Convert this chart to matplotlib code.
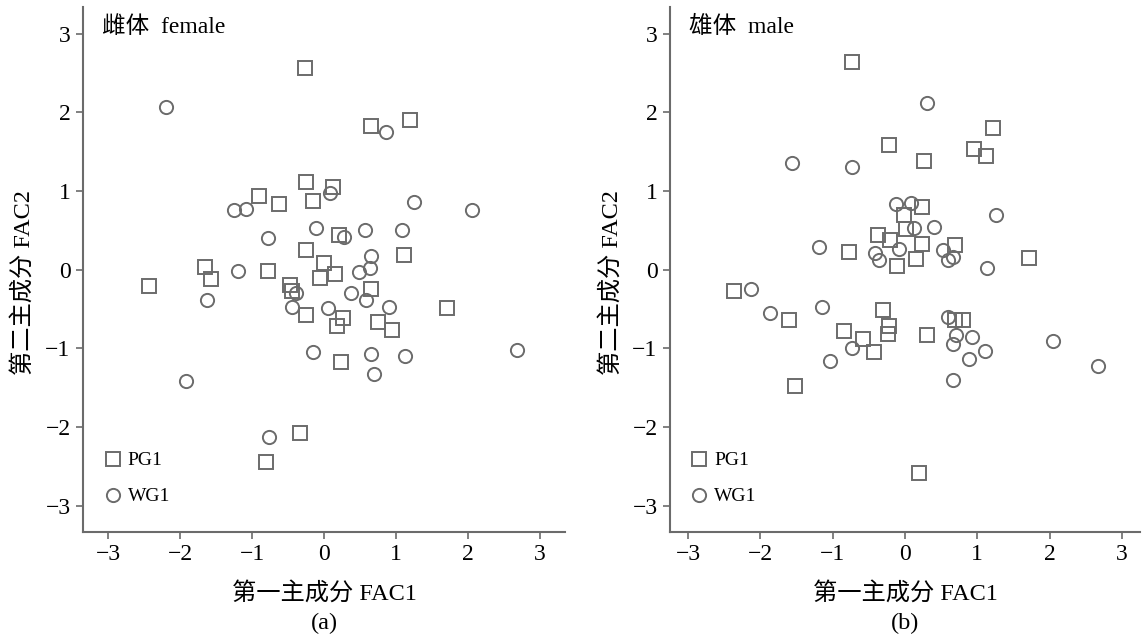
import numpy as np
import matplotlib
matplotlib.use("Agg")
import matplotlib.pyplot as plt

plt.rcParams['font.family'] = ['Liberation Serif', 'Noto Sans CJK SC']
plt.rcParams['axes.unicode_minus'] = True

# 雌体 female
f_pg_x = [-0.26, 0.65, 1.20, -0.25, 0.13, -0.90, -0.62, -0.15, 0.21, -0.25, 1.11, 0.00, -1.66, -0.78, -1.57,
          -2.43, -0.06, 0.16, -0.47, -0.44, 0.66, -0.25, 1.71, 0.27, 0.18, 0.75, 0.94, 0.23, -0.33, -0.81]
f_pg_y = [2.57, 1.83, 1.90, 1.12, 1.05, 0.94, 0.83, 0.87, 0.44, 0.25, 0.19, 0.09, 0.03, -0.01, -0.12,
          -0.21, -0.11, -0.06, -0.20, -0.27, -0.25, -0.58, -0.49, -0.61, -0.72, -0.66, -0.76, -1.17, -2.08, -2.44]
f_wg_x = [-2.20, 0.86, 0.08, -1.25, -1.08, 1.25, 2.06, -0.11, 0.28, 0.57, 1.09, -0.78, 0.66, -1.20, 0.49,
          0.64, -0.39, 0.37, -1.63, -0.45, 0.05, 0.58, 0.91, -0.15, 0.65, 1.12, 0.69, 2.68, -1.92, -0.77]
f_wg_y = [2.07, 1.75, 0.97, 0.76, 0.77, 0.86, 0.76, 0.53, 0.41, 0.50, 0.51, 0.40, 0.18, -0.01, -0.03,
          0.02, -0.30, -0.29, -0.39, -0.47, -0.48, -0.39, -0.47, -1.04, -1.07, -1.10, -1.32, -1.02, -1.42, -2.12]

# 雄体 male
m_pg_x = [-0.73, 1.21, -0.22, 0.96, 1.12, 0.26, 0.23, -0.01, 0.01, -0.38, -0.21, 0.24, -0.77, 0.15, -0.11,
          0.69, 1.72, -2.36, -1.60, -0.30, -0.22, -0.23, -0.84, -0.58, -0.43, -1.52, 0.30, 0.69, 0.80, 0.19]
m_pg_y = [2.64, 1.80, 1.59, 1.53, 1.45, 1.38, 0.80, 0.70, 0.52, 0.44, 0.38, 0.33, 0.22, 0.14, 0.05,
          0.31, 0.15, -0.27, -0.64, -0.51, -0.71, -0.82, -0.78, -0.88, -1.05, -1.48, -0.83, -0.64, -0.64, -2.59]
m_wg_x = [0.31, -1.57, -0.73, -0.12, 0.08, 1.26, 0.12, 0.40, -0.08, -1.19, -0.42, -0.36, 0.52, 0.60, 0.67,
          1.13, -2.13, -1.87, -1.15, -0.73, -1.04, 0.59, 0.71, 0.92, 0.67, 1.11, 0.88, 0.67, 2.05, 2.67]
m_wg_y = [2.12, 1.36, 1.30, 0.84, 0.85, 0.69, 0.53, 0.54, 0.27, 0.29, 0.21, 0.13, 0.25, 0.12, 0.16,
          0.02, -0.24, -0.55, -0.47, -1.00, -1.16, -0.60, -0.83, -0.85, -0.95, -1.03, -1.13, -1.40, -0.90, -1.22]

ticks = [-3, -2, -1, 0, 1, 2, 3]
gris = '#6b6b6b'

fig = plt.figure(figsize=(11.42, 6.37), dpi=100)
ax1 = fig.add_axes([0.0727, 0.1653, 0.4220, 0.8237])
ax2 = fig.add_axes([0.5867, 0.1653, 0.4116, 0.8237])

paneles = [
    (ax1, f_pg_x, f_pg_y, f_wg_x, f_wg_y, '雌体  female', '(a)', (-3.35, 3.35)),
    (ax2, m_pg_x, m_pg_y, m_wg_x, m_wg_y, '雄体  male', '(b)', (-3.25, 3.25)),
]

for ax, px, py, wx, wy, titulo, letra, xl in paneles:
    ax.plot(px, py, 's', ms=9.5, mfc='none', mec=gris, mew=1.4, label='PG1')
    ax.plot(wx, wy, 'o', ms=9.5, mfc='none', mec=gris, mew=1.4, label='WG1')
    ax.set_xlim(*xl)
    ax.set_ylim(-3.33, 3.34)
    ax.set_xticks(ticks)
    ax.set_yticks(ticks)
    ax.tick_params(direction='out', length=5, width=1.2, color=gris, labelsize=17, pad=4)
    for s in ['top', 'right']:
        ax.spines[s].set_visible(False)
    for s in ['left', 'bottom']:
        ax.spines[s].set_color(gris)
        ax.spines[s].set_linewidth(1.5)
    ax.text(0.04, 0.962, titulo, transform=ax.transAxes, fontsize=17, va='center', ha='left')
    ax.set_xlabel('第一主成分 FAC1\n' + letra, fontsize=17.5, labelpad=12, linespacing=1.5)
    ax.set_ylabel('第二主成分 FAC2', fontsize=17.5)
    ax.yaxis.set_label_coords(-0.10, 0.475)
    ax.legend(loc='lower left', bbox_to_anchor=(0.046, 0.05), frameon=False, fontsize=14,
              handlelength=0.8, handletextpad=0.35, labelspacing=0.95, borderpad=0, borderaxespad=0)

fig.savefig('out.png', dpi=100)
